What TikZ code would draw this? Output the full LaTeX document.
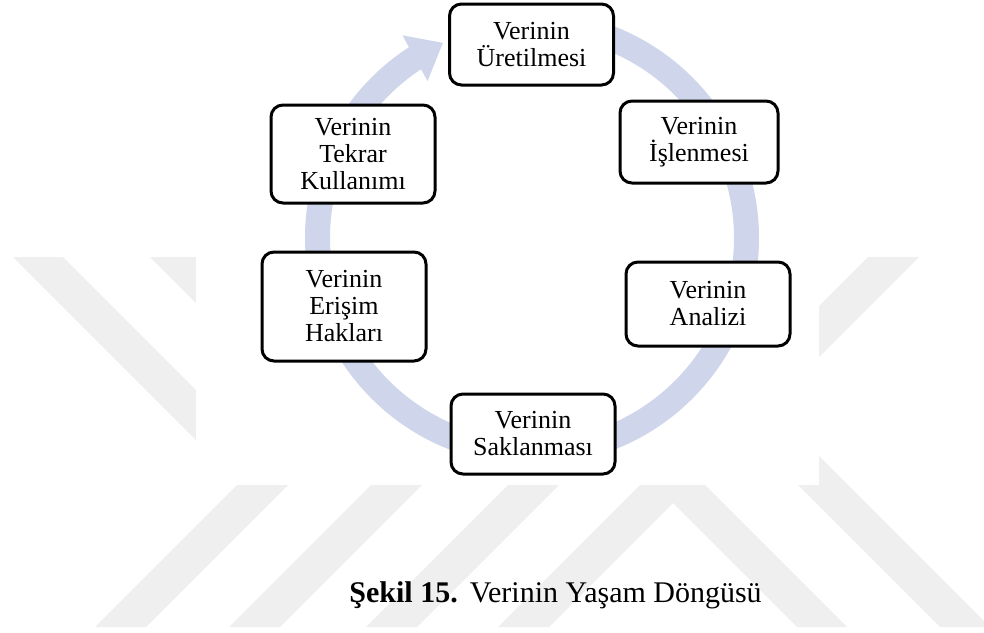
\documentclass[tikz,border=0pt]{standalone}
\usepackage{fontspec}
\setmainfont{Liberation Serif}
\usetikzlibrary{arrows.meta,bending}
\definecolor{ringblue}{RGB}{207,213,234}
\definecolor{markgray}{RGB}{239,239,239}
\tikzset{
  stage/.style={draw=black, line width=1.5pt, fill=white, rounded corners=6pt,
    align=center, inner sep=0pt, minimum width=82pt,
    font=\fontsize{13}{13.5}\selectfont},
  ring/.style={draw=ringblue, line width=12.5pt,
    -{Triangle[length=16pt,width=25pt,flex]}},
  stripe/.style={fill=markgray, draw=none}
}
\begin{document}
\begin{tikzpicture}[x=0.5pt,y=-0.5pt]
\useasboundingbox (0,0) rectangle (984,632);
% upper strokes
\begin{scope}
\clip (0,257) rectangle (984,450);
\foreach \xb in {383,520}
  \fill[stripe] (\xb,627) -- (\xb+50,627) -- (\xb-350,227) -- (\xb-400,227) -- cycle;
\end{scope}
% lower strokes
\begin{scope}
\clip (0,450) rectangle (984,627);
\foreach \xb in {797,940}
  \fill[stripe] (\xb,627) -- (\xb+50,627) -- (\xb-350,227) -- (\xb-400,227) -- cycle;
\foreach \xb in {95,229,366}
  \fill[stripe] (\xb,627) -- (\xb+51,627) -- (\xb+451,227) -- (\xb+400,227) -- cycle;
\end{scope}
\begin{scope}
\clip (0,257) rectangle (984,627);
\fill[stripe] (498,627) -- (549,627) -- (949,227) -- (898,227) -- cycle;
\end{scope}
\fill[white] (196,0) rectangle (819,485);
\coordinate (hub) at (532,238);
\draw[ring] (hub) ++(-90:214.5) arc[start angle=-90, end angle=245.5, radius=214.5];
\node[stage, minimum height=40.5pt] (uret) at (531.5,44.5) {Verinin\\Üretilmesi};
\node[stage, minimum width=79pt, minimum height=41pt] (isle) at (699,142) {Verinin\\İşlenmesi};
\node[stage, minimum height=42pt] (analiz) at (708,304) {Verinin\\Analizi};
\node[stage, minimum height=40pt] (sakla) at (533,434) {Verinin\\Saklanması};
\node[stage, minimum height=54.5pt] (erisim) at (344,306.5) {Verinin\\Erişim\\Hakları};
\node[stage, minimum height=49pt] (tekrar) at (353,154) {Verinin\\Tekrar\\Kullanımı};
\node[anchor=base west, inner sep=0pt, font=\fontsize{15}{17}\selectfont] (caption) at (349,602)
  {\textbf{Şekil 15.}\hspace{6pt}Verinin Yaşam Döngüsü};
\end{tikzpicture}
\end{document}
